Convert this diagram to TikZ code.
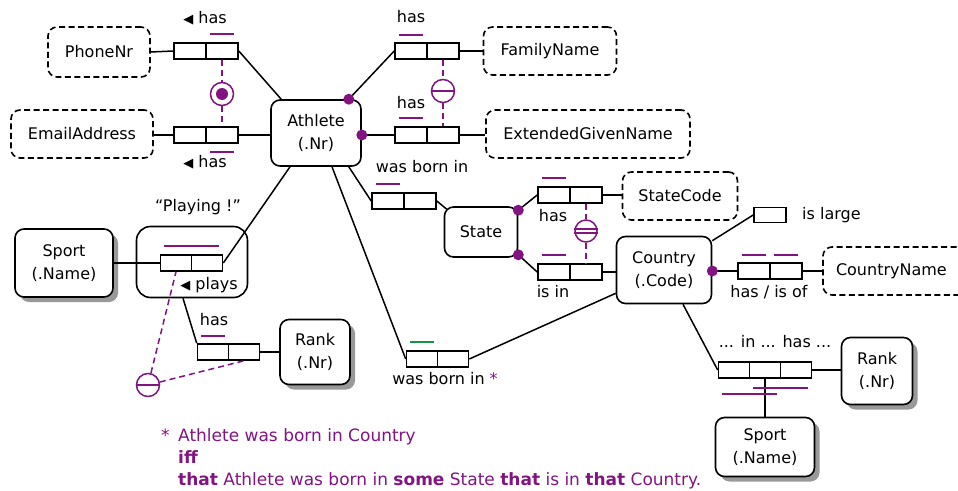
\documentclass[tikz,border=0pt]{standalone}
\usepackage{fontspec}
\setmainfont{DejaVu Sans}
\usetikzlibrary{shadows,calc}
\definecolor{orm}{RGB}{130,20,130}
\definecolor{ormg}{RGB}{20,150,70}
\newcommand\ormtri{{\fontsize{13}{13}\selectfont ◀}}
\begin{document}
\begin{tikzpicture}[x=1pt,y=-1pt,
  every node/.style={font=\fontsize{16}{23}\selectfont, inner sep=0pt},
  ent/.style={draw, line width=1.6pt, rounded corners=9pt, align=center, fill=white},
  shent/.style={ent, drop shadow={shadow xshift=5pt,shadow yshift=-5pt,fill=black!40,opacity=1}},
  val/.style={ent, dash pattern=on 6pt off 3.5pt},
  rolebox/.style={draw, line width=1.6pt, minimum width=32pt, minimum height=16pt},
  lbl/.style={text height=11.5pt, text depth=3.5pt},
  conn/.style={line width=1.5pt},
  ubar/.style={orm, line width=2pt},
  cdash/.style={orm, line width=1.5pt, dash pattern=on 6pt off 4pt},
  cons/.style={circle, draw=orm, line width=1.5pt, minimum size=23pt, fill=white},
  mdot/.style={fill=orm},
]
\useasboundingbox (0,0) rectangle (958,490);

% ---------- object types ----------
\node[ent, minimum width=90pt, minimum height=66pt] (Athlete) at (316,133) {Athlete\\(.Nr)};
\node[val, minimum width=102pt, minimum height=50pt] (PhoneNr) at (99,52) {PhoneNr};
\node[val, minimum width=142pt, minimum height=48pt] (Email) at (82,134) {EmailAddress};
\node[val, minimum width=133pt, minimum height=48pt] (FamilyName) at (550,51) {FamilyName};
\node[val, minimum width=204pt, minimum height=48pt] (EGN) at (588,134) {ExtendedGivenName};
\node[ent, minimum width=73pt, minimum height=50pt] (State) at (481,232) {State};
\node[val, minimum width=115pt, minimum height=48pt] (StateCode) at (680,196) {StateCode};
\node[ent, minimum width=95pt, minimum height=67pt] (Country) at (664,270) {Country\\(.Code)};
\node[val, minimum width=152pt, minimum height=48pt, text width=130pt, align=left] (CountryName) at (899,271) {\hspace*{2pt}CountryName};
\node[shent, minimum width=71pt, minimum height=67pt] (RankR) at (877,371) {Rank\\(.Nr)};
\node[shent, minimum width=99pt, minimum height=59pt] (SportB) at (765,447) {Sport\\(.Name)};
\node[shent, minimum width=98pt, minimum height=68pt] (SportL) at (64,263) {Sport\\(.Name)};
\node[ent, rounded corners=14pt, minimum width=111pt, minimum height=71pt] (Playing) at (192,262) {};
\node[shent, minimum width=70pt, minimum height=65pt] (RankL) at (315,352) {Rank\\(.Nr)};

% ---------- roles ----------
\node[rolebox] (phA) at (190,51) {};
\node[rolebox] (phB) at (222,51) {};
\node[rolebox] (emA) at (190,135) {};
\node[rolebox] (emB) at (222,135) {};
\node[rolebox] (famA) at (411,51) {};
\node[rolebox] (famB) at (443,51) {};
\node[rolebox] (egnA) at (411,135) {};
\node[rolebox] (egnB) at (443,135) {};
\node[rolebox] (wbA) at (388,201) {};
\node[rolebox] (wbB) at (420,201) {};
\node[rolebox] (scA) at (554,195) {};
\node[rolebox] (scB) at (586,195) {};
\node[rolebox] (isA) at (554,272) {};
\node[rolebox] (isB) at (586,272) {};
\node[rolebox] (cnA) at (754,271) {};
\node[rolebox] (cnB) at (786,271) {};
\node[rolebox, minimum height=15pt] (lg) at (770,215) {};
\node[rolebox, minimum width=31pt] (t1) at (734,370) {};
\node[rolebox, minimum width=31pt] (t2) at (765,370) {};
\node[rolebox, minimum width=31pt] (t3) at (796,370) {};
\node[rolebox, minimum width=31pt] (plA) at (176,263) {};
\node[rolebox, minimum width=31pt] (plB) at (207,263) {};
\node[rolebox, minimum width=31pt] (hrA) at (213,352) {};
\node[rolebox, minimum width=31pt] (hrB) at (244,352) {};
\node[rolebox, minimum width=31pt] (wcA) at (422,359) {};
\node[rolebox, minimum width=31pt] (wcB) at (453,359) {};

% ---------- labels ----------
\node[lbl] (lPh) at (205,19) {\ormtri\ has};
\node[lbl] (lEm) at (205,163) {\ormtri\ has};
\node[lbl] (lFam) at (411,18) {has};
\node[lbl] (lEgn) at (411,104) {has};
\node[lbl] (lWb) at (422,168) {was born in};
\node[lbl] (lSc) at (553,217) {has};
\node[lbl] (lIs) at (553,293) {is in};
\node[lbl] (lCn) at (769,293) {has / is of};
\node[lbl, anchor=west] (lLg) at (802,215) {is large};
\node[lbl] (lTer) at (775,343) {... in ... has ...};
\node[lbl] (lPlay) at (198,207) {“Playing !”};
\node[lbl] (lPlays) at (209,285) {\ormtri\ plays};
\node[lbl] (lHr) at (214,321) {has};
\node[lbl] (lWc) at (445,380) {was born in \textcolor{orm}{*}};

% ---------- connectors ----------
\coordinate (dFam) at ([xshift=-13pt]Athlete.north east);
\coordinate (dEgn) at (Athlete.east |- egnA);
\coordinate (dSt1) at ([yshift=-4pt]State.north east);
\coordinate (dSt2) at ([yshift=3pt]State.south east);
\coordinate (dCn) at (Country.east |- cnA);
\draw[conn] (PhoneNr.east) -- (phA.west);
\draw[conn] (phB.east) -- ([xshift=11pt]Athlete.north west);
\draw[conn] (Email.east |- emA) -- (emA.west);
\draw[conn] (emB.east) -- (emB.east -| Athlete.west);
\draw[conn] (dFam) -- (famA.west);
\draw[conn] (famB.east) -- (FamilyName.west);
\draw[conn] (dEgn) -- (egnA.west);
\draw[conn] (egnB.east) -- (EGN.west |- egnB);
\draw[conn] ([xshift=-13pt]Athlete.south east) -- (wbA.west);
\draw[conn] (wbB.east) -- ([xshift=3pt,yshift=-3pt]State.north west);
\draw[conn] (dSt1) -- (scA.west);
\draw[conn] (scB.east) -- (StateCode.west |- scB);
\draw[conn] (dSt2) -- (isA.west);
\draw[conn] (isB.east) -- (Country.west |- isB);
\draw[conn] (dCn) -- (cnA.west);
\draw[conn] (cnB.east) -- (CountryName.west |- cnB);
\draw[conn] ([yshift=-5pt]Country.north east) -- (lg.west);
\draw[conn] ([xshift=19pt]Country.south) -- (t1.west);
\draw[conn] (t3.east) -- (RankR.west |- t3);
\draw[conn] (t2.south) -- (SportB.north);
\draw[conn] ([xshift=16pt]Athlete.south) -- (wcA.west);
\draw[conn] (wcB.east) -- ([yshift=11pt]Country.south west);
\draw[conn] ([xshift=-26pt]Athlete.south) -- (plB.east);
\draw[conn] (SportL.east |- plA) -- (plA.west);
\draw[conn] ([xshift=-9pt]Playing.south) -- (hrA.north west);
\draw[conn] (hrB.east) -- (RankL.west |- hrB);

% mandatory dots
\foreach \d in {dFam,dEgn,dSt1,dSt2,dCn} \fill[mdot] (\d) circle (5.5pt);

% ---------- uniqueness bars ----------
\draw[ubar] ($(phB.north)+(-12,-8)$) -- ++(24,0);
\draw[ubar] ($(emB.south)+(-12,8)$) -- ++(24,0);
\draw[ubar] ($(famA.north)+(-12,-7)$) -- ++(24,0);
\draw[ubar] ($(egnA.north)+(-12,-8)$) -- ++(24,0);
\draw[ubar] ($(wbA.north)+(-12,-8)$) -- ++(24,0);
\draw[ubar] ($(scA.north)+(-12,-8)$) -- ++(24,0);
\draw[ubar] ($(isA.north)+(-12,-8)$) -- ++(24,0);
\draw[ubar] ($(cnA.north)+(-12,-7)$) -- ++(24,0);
\draw[ubar] ($(cnB.north)+(-12,-7)$) -- ++(24,0);
\draw[ubar] ($(plA.north)+(-12,-8)$) -- ($(plB.north)+(12,-8)$);
\draw[ubar] ($(hrA.north)+(-12,-7)$) -- ++(24,0);
\draw[ubar] ($(t2.south)+(-12,9)$) -- ($(t3.south)+(12,9)$);
\draw[ubar] ($(t1.south)+(-12,15)$) -- ($(t2.south)+(12,15)$);
\draw[ubar, ormg] ($(wcA.north)+(-12,-8)$) -- ++(24,0);

% ---------- external constraints ----------
\node[cons] (xPh) at (222,94) {};
\fill[orm] (xPh) circle (6pt);
\draw[cdash] (phB.south) -- (xPh.north);
\draw[cdash] (xPh.south) -- (emB.north);

\node[cons] (xFam) at (443,91) {};
\draw[orm, line width=1.5pt] (xFam.west) -- (xFam.east);
\draw[cdash] (famB.south) -- (xFam.north);
\draw[cdash] (xFam.south) -- (egnB.north);

\node[cons, minimum size=22pt] (xSt) at (586,231) {};
\draw[orm, line width=1.2pt] ([yshift=2pt]xSt.west) -- ([yshift=2pt]xSt.east);
\draw[orm, line width=1.2pt] ([yshift=-2pt]xSt.west) -- ([yshift=-2pt]xSt.east);
\draw[cdash] (scB.south) -- (xSt.north);
\draw[cdash] (xSt.south) -- (isB.north);

\node[cons] (xPl) at (148,385) {};
\draw[orm, line width=1.5pt] (xPl.west) -- (xPl.east);
\draw[cdash] (xPl) -- (plA.south);
\draw[cdash] (xPl) -- (hrB.south);

% ---------- footnote ----------
\begin{scope}[every node/.append style={text=orm, anchor=base west, font=\fontsize{17}{20}\selectfont}]
\node (fn1) at (161,441) {\makebox[17pt][l]{*}Athlete was born in Country};
\node (fn2) at (178,463) {\textbf{iff}};
\node (fn3) at (178,485) {\textbf{that} Athlete was born in \textbf{some} State \textbf{that} is in \textbf{that} Country.};
\end{scope}
\end{tikzpicture}
\end{document}
